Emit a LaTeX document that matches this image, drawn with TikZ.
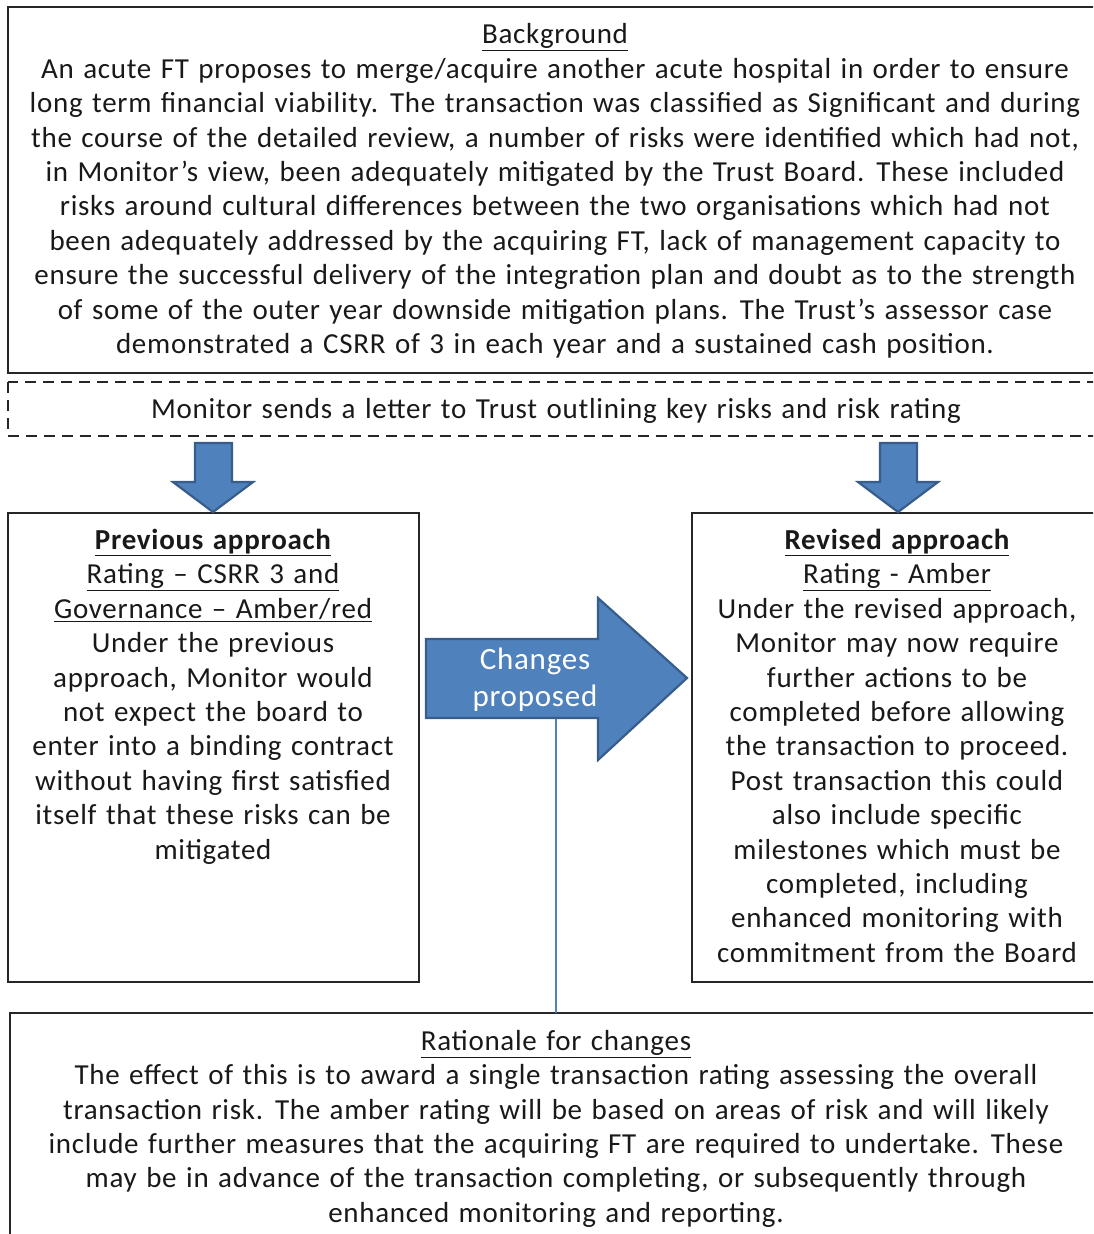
\documentclass[tikz,border=0pt]{standalone}
\usepackage{fontspec}
\setmainfont{Carlito}[LetterSpace=2.5,WordSpace=1.3]
\definecolor{arrowfill}{HTML}{4F81BD}
\definecolor{arrowedge}{HTML}{385D8A}
\begin{document}
\begin{tikzpicture}[x=1pt,y=-1pt,
  frame/.style={draw=black!85,line width=1.6pt},
  blockarrow/.style={fill=arrowfill,draw=arrowedge,line width=2.2pt,line join=miter},
  body/.style={align=center,inner sep=0pt,font=\fontsize{29}{34.4}\selectfont,text=black!90},
  link/.style={draw=arrowfill,line width=1.6pt}]
\useasboundingbox (0,0) rectangle (1093,1234);
\clip (0,0) rectangle (1093,1234);

% frames
\draw[frame] (8,7) rectangle (1120,373);
\draw[frame,dashed,dash pattern=on 11pt off 7pt] (8,382) rectangle (1120,436);
\draw[frame] (8,513) rectangle (419,982);
\draw[frame] (692,513) rectangle (1120,982);
\draw[frame] (10,1013) rectangle (1120,1260);

% background
\node[body] (bg) at (555,191) {\underline{Background}\\
An acute FT proposes to merge/acquire another acute hospital in order to ensure\\
long term financial viability. The transaction was classified as Significant and during\\
the course of the detailed review, a number of risks were identified which had not,\\
in Monitor’s view, been adequately mitigated by the Trust Board. These included\\
risks around cultural differences between the two organisations which had not\\
been adequately addressed by the acquiring FT, lack of management capacity to\\
ensure the successful delivery of the integration plan and doubt as to the strength\\
of some of the outer year downside mitigation plans. The Trust’s assessor case\\
demonstrated a CSRR of 3 in each year and a sustained cash position.};

% letter
\node[body] (msg) at (556,411) {Monitor sends a letter to Trust outlining key risks and risk rating};

% previous approach
\node[body,anchor=north] (prev) at (213,529) {\textbf{\underline{Previous approach}}\\
\underline{Rating – CSRR 3 and}\\
\underline{Governance – Amber/red}\\
Under the previous\\
approach, Monitor would\\
not expect the board to\\
enter into a binding contract\\
without having first satisfied\\
itself that these risks can be\\
mitigated};

% revised approach
\node[body,anchor=north] (rev) at (897,529) {\textbf{\underline{Revised approach}}\\
\underline{Rating - Amber}\\
Under the revised approach,\\
Monitor may now require\\
further actions to be\\
completed before allowing\\
the transaction to proceed.\\
Post transaction this could\\
also include specific\\
milestones which must be\\
completed, including\\
enhanced monitoring with\\
commitment from the Board};

% rationale
\node[body,anchor=north] (rat) at (556,1030) {\underline{Rationale for changes}\\
The effect of this is to award a single transaction rating assessing the overall\\
transaction risk. The amber rating will be based on areas of risk and will likely\\
include further measures that the acquiring FT are required to undertake. These\\
may be in advance of the transaction completing, or subsequently through\\
enhanced monitoring and reporting.};

% down arrows from the letter
\draw[blockarrow] (195,443) -- (232,443) -- (232,482) -- (253,482) -- (213,512) -- (173,482) -- (195,482) -- cycle;
\draw[blockarrow] (880,443) -- (917,443) -- (917,482) -- (938,482) -- (898,512) -- (858,482) -- (880,482) -- cycle;

% changes proposed arrow
\draw[blockarrow] (426,639) -- (598,639) -- (598,598) -- (687,678) -- (598,760) -- (598,718) -- (426,718) -- cycle;
\node[body,text=white,font=\fontsize{31}{37}\selectfont] (chg) at (535,680) {Changes\\proposed};
\coordinate (chgfoot) at (556,719);
\coordinate (ratjoin) at (556,1013);
\draw[link] (chgfoot) -- (ratjoin);
\end{tikzpicture}
\end{document}
